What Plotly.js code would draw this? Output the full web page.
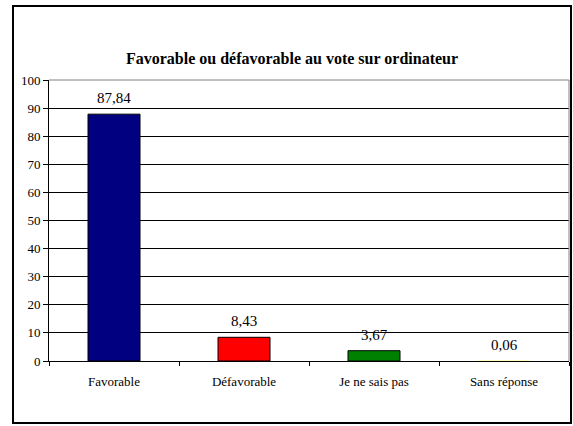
<!DOCTYPE html>
<html>
<head>
<meta charset="utf-8">
<script src="https://cdn.plot.ly/plotly-3.0.1.min.js"></script>
<style>html,body{margin:0;padding:0;background:#fff;}#chart{width:573px;height:426px;}</style>
</head>
<body>
<div id="chart"></div>
<script>
const categories = ["Favorable", "Défavorable", "Je ne sais pas", "Sans réponse"];
const values = [87.84, 8.43, 3.67, 0.06];
const barColors = ["#000080", "#FF0000", "#008000", "#FFFF00"];
const valueLabels = ["87,84", "8,43", "3,67", "0,06"];
const yTicks = [0, 10, 20, 30, 40, 50, 60, 70, 80, 90, 100];
const titleText = "Favorable ou défavorable au vote sur ordinateur";

const serif = "'Liberation Serif', 'Times New Roman', serif";

const trace = {
  type: "bar",
  x: categories,
  y: values,
  marker: {color: barColors, line: {color: "#000000", width: [1, 1, 1, 0]}},
  hoverinfo: "none"
};

const annotations = categories.map((c, i) => ({
  x: c, y: values[i], xref: "x", yref: "y",
  text: valueLabels[i], showarrow: false,
  yanchor: "middle", yshift: 16,
  font: {family: serif, size: 15, color: "#000"}
}));

const W = 520, H = 281;
const px = v => (v - 49) / W;
const py = v => (361 - v) / H;

const layout = {
  width: 573, height: 426,
  margin: {l: 49, r: 4, t: 80, b: 65, pad: 0},
  paper_bgcolor: "#fff", plot_bgcolor: "#fff",
  showlegend: false,
  bargap: 0.6,
  font: {family: serif, color: "#000"},
  title: {
    text: "<b>" + titleText + "</b>",
    xref: "container", yref: "container",
    x: 292 / 573, y: 1 - 58 / 426, xanchor: "center", yanchor: "middle",
    font: {family: serif, size: 16, color: "#000"}
  },
  xaxis: {
    type: "category",
    showline: true, linecolor: "#000", linewidth: 1,
    ticks: "outside", tickson: "boundaries", ticklen: 4, tickcolor: "#000",
    showgrid: false, zeroline: false,
    tickfont: {family: serif, size: 13, color: "#000"},
    ticklabelstandoff: 8,
    fixedrange: true
  },
  yaxis: {
    range: [0, 100], tickvals: yTicks,
    showline: true, linecolor: "#000", linewidth: 1,
    ticks: "outside", ticklen: 5, tickcolor: "#000",
    showgrid: true, gridcolor: "#000", gridwidth: 1,
    zeroline: false,
    tickfont: {family: serif, size: 13, color: "#000"},
    fixedrange: true
  },
  annotations: annotations,
  shapes: [
    {type: "line", xref: "paper", yref: "paper", x0: 0, x1: 1, y0: 1, y1: 1,
     line: {color: "#808080", width: 1}, layer: "above"},
    {type: "line", xref: "paper", yref: "paper", x0: 1, x1: 1, y0: 0, y1: 1,
     line: {color: "#808080", width: 1}, layer: "above"},
    {type: "rect", xref: "paper", yref: "paper",
     x0: px(13), x1: px(571), y0: py(6), y1: py(423),
     line: {color: "#000", width: 2}, fillcolor: "rgba(0,0,0,0)", layer: "above"}
  ]
};

Plotly.newPlot("chart", [trace], layout, {staticPlot: true, displayModeBar: false});
</script>
</body>
</html>
